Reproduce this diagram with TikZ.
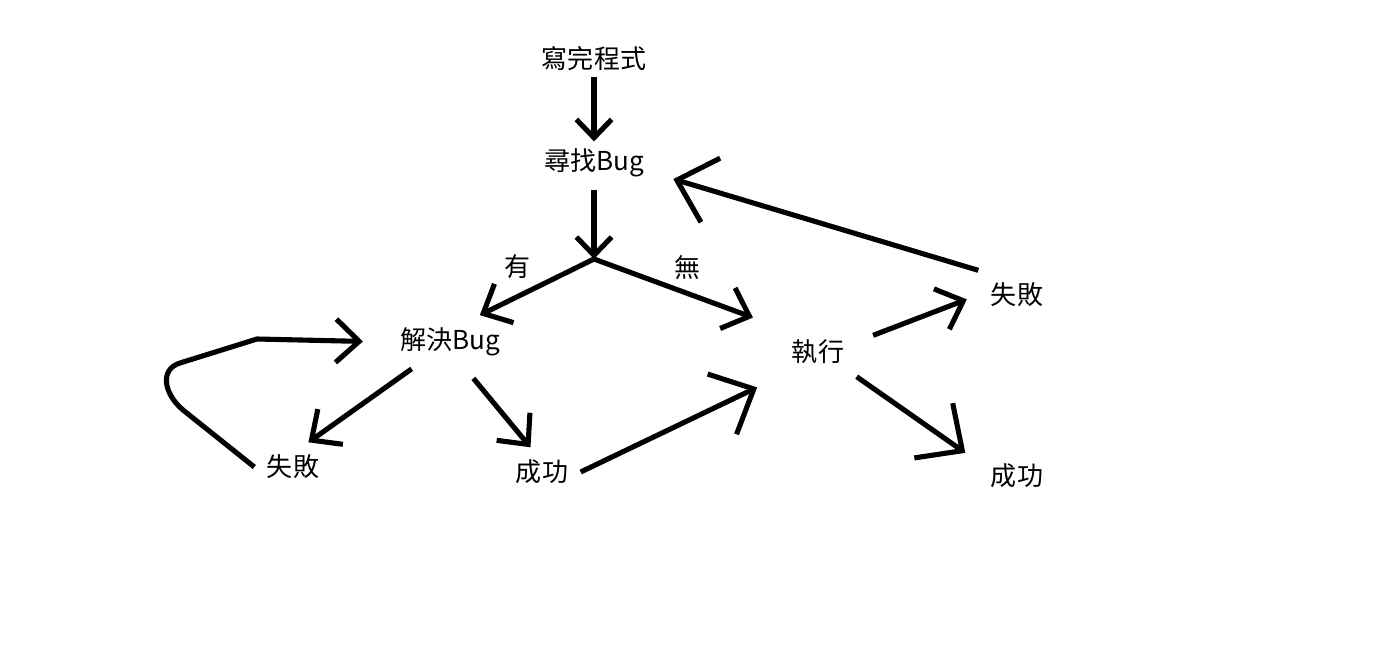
\documentclass[tikz,border=0pt]{standalone}
\usepackage{fontspec}
\setmainfont{Noto Sans CJK TC}
\usetikzlibrary{arrows.meta}

\begin{document}
\begin{tikzpicture}[
    x=0.01cm, y=-0.01cm,
    word/.style={font=\fontsize{7.4}{8}\selectfont, inner sep=3.4pt},
    lbl/.style={font=\fontsize{7.4}{8}\selectfont, inner sep=0pt},
    arr/.style={-{Straight Barb[length=6.6pt, width=12.3pt]}, line width=1.45pt, line join=round},
    arr small/.style={-{Straight Barb[length=5.2pt, width=10pt]}, line width=1.45pt},
    arr big/.style={-{Straight Barb[length=10pt, width=19pt]}, line width=1.45pt}
]
\useasboundingbox (0,0) rectangle (1385,664);

\node[word] (write) at (594,59) {寫完程式};
\node[word] (find) at (594,163) {尋找Bug};
\coordinate (fork) at (594,259);
\node[lbl] (yes) at (518,267) {有};
\node[lbl] (no) at (687,268) {無};
\node[word] (fix) at (450,342) {解決Bug};
\node[word] (run) at (818,352) {執行};
\node[word] (runfail) at (1017,295) {失敗};
\node[word] (runok) at (1017,476) {成功};
\node[word] (fixfail) at (293,467) {失敗};
\node[word] (fixok) at (542,472) {成功};

\draw[arr small, shorten <=-2pt, shorten >=-1.5pt] (write) -- (find);
\draw[arr small] (find) -- (fork);
\draw[arr] (fork) -- (fix.42);
\draw[arr, shorten >=8pt] (fork) -- (run.north west);

\draw[arr, shorten <=5pt, shorten >=3.5pt] (run.15) -- (runfail.west);
\draw[arr big, shorten >=4.5pt] (run.south east) -- (runok.160);
\draw[arr big, shorten >=5pt] (runfail.north west) -- (find.350);

\draw[arr] (fix.215) -- (fixfail.58);
\draw[arr, shorten <=3.5pt] (fix.300) -- (fixok.115);
\draw[arr big, shorten >=7pt] (fixok.east) -- (run.south west);
\draw[arr, shorten >=7pt] (fixfail.west) -- (183,410) .. controls (163,393) and (160,369) .. (180,363) -- (257,339) -- (fix.west);
\end{tikzpicture}
\end{document}
